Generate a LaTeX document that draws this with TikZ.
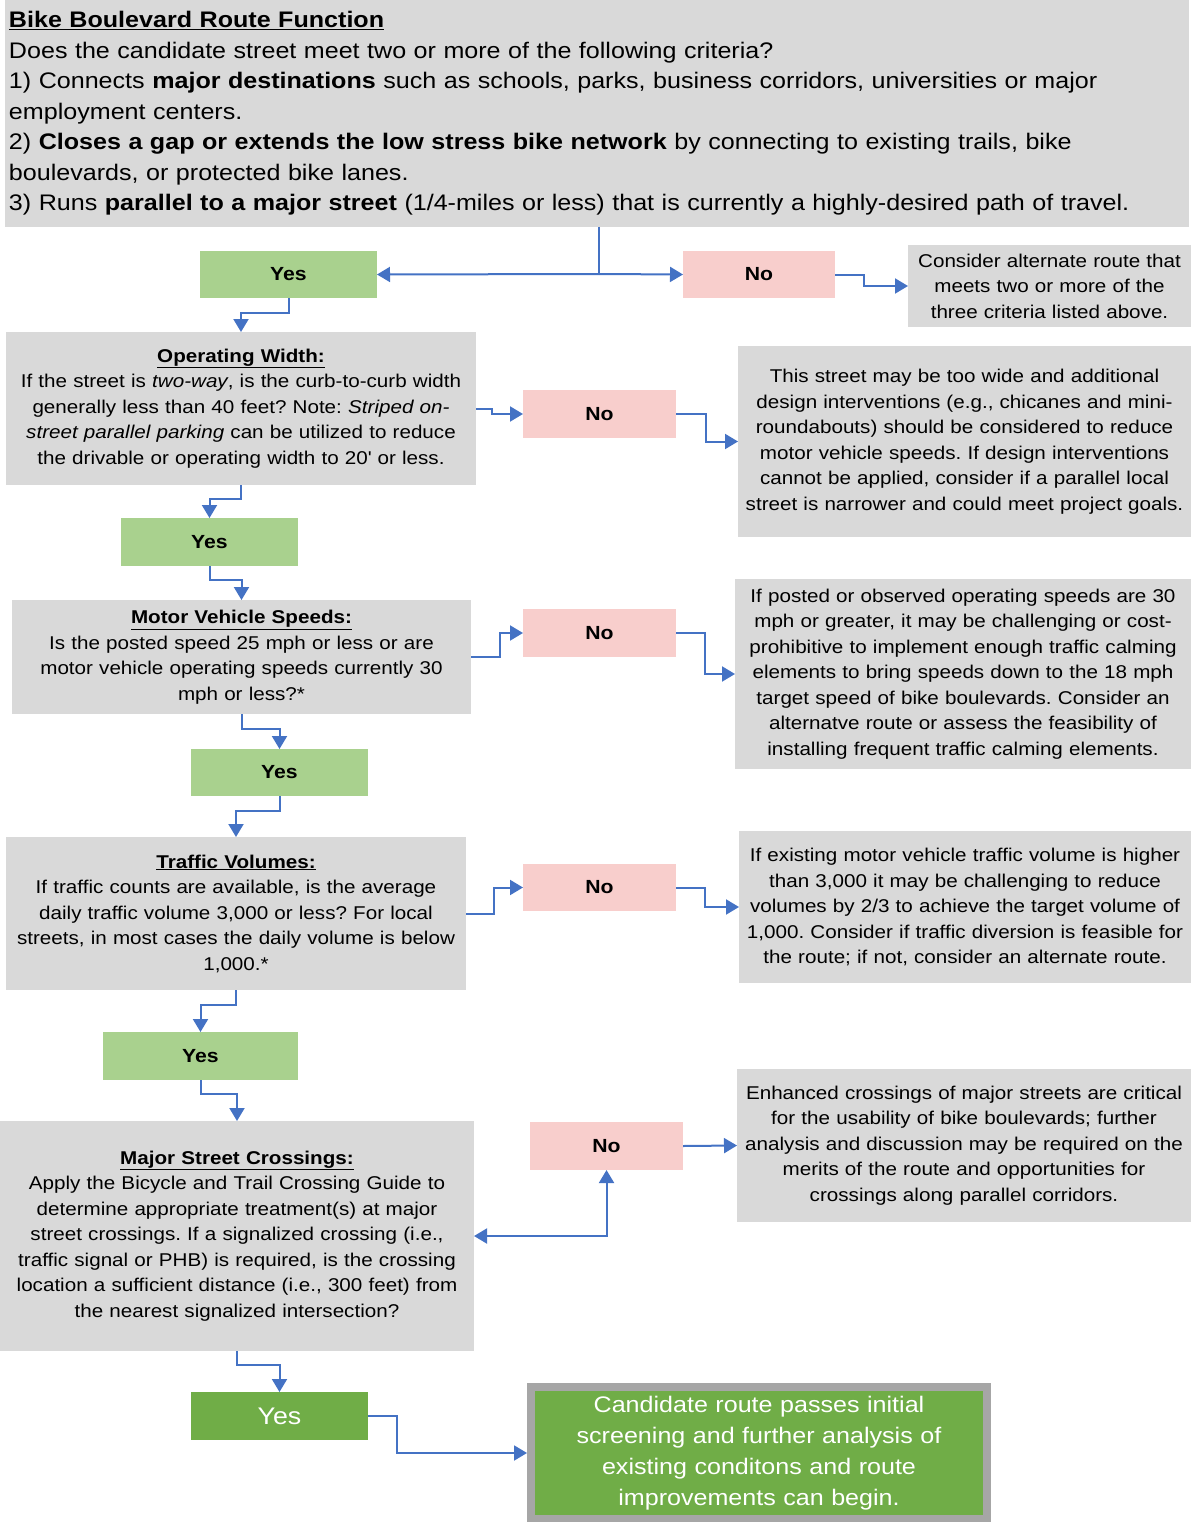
\documentclass[tikz,border=0pt]{standalone}
\usepackage{fontspec}
\setmainfont[FakeStretch=1.115]{Liberation Sans}
\usetikzlibrary{arrows.meta,calc}
\definecolor{boxgrey}{HTML}{D9D9D9}
\definecolor{nopink}{HTML}{F8CECC}
\definecolor{yesgreen}{HTML}{A9D18E}
\definecolor{darkgreen}{HTML}{70AD47}
\definecolor{arrowblue}{HTML}{4472C4}
\definecolor{bordergrey}{HTML}{A6A6A6}
\newcommand{\qbox}{\fontsize{18.5}{25.5}\selectfont}
\frenchspacing
\begin{document}
\begin{tikzpicture}[x=1pt,y=-1pt,
  base/.style={anchor=north west,inner sep=0pt,outer sep=0pt,align=center,font=\qbox},
  greybox/.style={base,fill=boxgrey},
  nobox/.style={base,fill=nopink,font=\fontsize{19}{23}\selectfont\bfseries,text width=#1},
  yesbox/.style={base,fill=yesgreen,font=\fontsize{19}{23}\selectfont\bfseries,text width=#1},
  arr/.style={draw=arrowblue,line width=2pt,-{Triangle[length=13pt,width=15pt]}},
  plainline/.style={draw=arrowblue,line width=2pt},
]
\useasboundingbox (0,0) rectangle (1191,1522);

% header
\node[base,fill=boxgrey,align=left,inner xsep=4pt,text width=1176pt,minimum height=227pt,
  font=\fontsize{22.5}{30.5}\selectfont] (hdr) at (5,0)
 {\underline{\textbf{Bike Boulevard Route Function}}\\
  Does the candidate street meet two or more of the following criteria?\\
  1) Connects \textbf{major destinations} such as schools, parks, business corridors, universities or major\\
  employment centers.\\
  2) \textbf{Closes a gap or extends the low stress bike network} by connecting to existing trails, bike\\
  boulevards, or protected bike lanes.\\
  3) Runs \textbf{parallel to a major street} (1/4-miles or less) that is currently a highly-desired path of travel.};

% row 1
\node[yesbox=177pt,minimum height=47pt] (yes1) at (200,251) {Yes};
\node[nobox=152pt,minimum height=47pt] (no1) at (683,251) {No};
\node[greybox,text width=283pt,minimum height=82pt] (alt1) at (908,245)
 {Consider alternate route that\\ meets two or more of the\\ three criteria listed above.};

% operating width
\node[greybox,text width=470pt,minimum height=153pt] (opw) at (6,332)
 {\underline{\textbf{Operating Width:}}\\
  If the street is \textit{two-way}, is the curb-to-curb width\\
  generally less than 40 feet? Note: \textit{Striped on-}\\
  \textit{street parallel parking} can be utilized to reduce\\
  the drivable or operating width to 20\textquotesingle{} or less.};
\node[nobox=153pt,minimum height=48pt] (no2) at (523,390) {No};
\node[greybox,text width=453pt,minimum height=191pt] (d2) at (738,346)
 {This street may be too wide and additional\\
  design interventions (e.g., chicanes and mini-\\
  roundabouts) should be considered to reduce\\
  motor vehicle speeds. If design interventions\\
  cannot be applied, consider if a parallel local\\
  street is narrower and could meet project goals.};
\node[yesbox=177pt,minimum height=48pt] (yes2) at (121,518) {Yes};

% motor vehicle speeds
\node[greybox,text width=459pt,minimum height=114pt] (mvs) at (12,600)
 {\underline{\textbf{Motor Vehicle Speeds:}}\\
  Is the posted speed 25 mph or less or are\\
  motor vehicle operating speeds currently 30\\
  mph or less?*};
\node[nobox=153pt,minimum height=48pt] (no3) at (523,609) {No};
\node[greybox,text width=456pt,minimum height=190pt] (d3) at (735,579)
 {If posted or observed operating speeds are 30\\
  mph or greater, it may be challenging or cost-\\
  prohibitive to implement enough traffic calming\\
  elements to bring speeds down to the 18 mph\\
  target speed of bike boulevards. Consider an\\
  alternatve route or assess the feasibility of\\
  installing frequent traffic calming elements.};
\node[yesbox=177pt,minimum height=47pt] (yes3) at (191,749) {Yes};

% traffic volumes
\node[greybox,text width=460pt,minimum height=153pt] (tv) at (6,837)
 {\underline{\textbf{Traffic Volumes:}}\\
  If traffic counts are available, is the average\\
  daily traffic volume 3,000 or less? For local\\
  streets, in most cases the daily volume is below\\
  1,000.*};
\node[nobox=153pt,minimum height=47pt] (no4) at (523,864) {No};
\node[greybox,text width=452pt,minimum height=152pt] (d4) at (739,831)
 {If existing motor vehicle traffic volume is higher\\
  than 3,000 it may be challenging to reduce\\
  volumes by 2/3 to achieve the target volume of\\
  1,000. Consider if traffic diversion is feasible for\\
  the route; if not, consider an alternate route.};
\node[yesbox=195pt,minimum height=48pt] (yes4) at (103,1032) {Yes};

% major street crossings
\node[greybox,text width=474pt,minimum height=230pt] (msc) at (0,1121)
 {\underline{\textbf{Major Street Crossings:}}\\
  Apply the Bicycle and Trail Crossing Guide to\\
  determine appropriate treatment(s) at major\\
  street crossings. If a signalized crossing (i.e.,\\
  traffic signal or PHB) is required, is the crossing\\
  location a sufficient distance (i.e., 300 feet) from\\
  the nearest signalized intersection?};
\node[nobox=153pt,minimum height=48pt] (no5) at (530,1122) {No};
\node[greybox,text width=454pt,minimum height=153pt] (d5) at (737,1069)
 {Enhanced crossings of major streets are critical\\
  for the usability of bike boulevards; further\\
  analysis and discussion may be required on the\\
  merits of the route and opportunities for\\
  crossings along parallel corridors.};

% final
\node[base,fill=darkgreen,text=white,text width=177pt,minimum height=48pt,
  font=\fontsize{24}{28}\selectfont] (yes5) at (191,1392) {Yes};
\node[anchor=north west,fill=darkgreen,draw=bordergrey,line width=8pt,outer sep=4pt,
  inner sep=0pt,text=white,align=center,text width=456pt,minimum height=132pt,
  font=\fontsize{22.5}{31}\selectfont] (fin) at (527,1383)
 {\raisebox{-4pt}{\parbox{456pt}{\centering
  Candidate route passes initial\\
  screening and further analysis of\\
  existing conditons and route\\
  improvements can begin.}}};

% connectors
\coordinate (split) at (599,274);
\draw[plainline] (hdr.south -| split) -- (split);
\draw[arr] (split) -- (yes1.east);
\draw[arr] (split) -- (no1.west);
\draw[arr] (no1.east) -- ++(29,0) |- (alt1.west);
\draw[arr] (yes1.south) -- ++(0,15) -| (opw.north);

\draw[arr] (opw.east) -- ++(16,0) |- (no2.west);
\draw[arr] (no2.east) -- ++(30,0) |- (d2.west);
\draw[arr] (opw.south) -- ++(0,14) -| (yes2.north);
\draw[arr] (yes2.south) -- ++(0,14) -| (mvs.north);

\draw[arr] (mvs.east) -- ++(29,0) |- (no3.west);
\draw[arr] (no3.east) -- ++(29,0) |- (d3.west);
\draw[arr] (mvs.south) -- ++(0,15) -| (yes3.north);
\draw[arr] (yes3.south) -- ++(0,15) -| (tv.north);

\draw[arr] (tv.east) -- ++(28,0) |- (no4.west);
\draw[arr] (no4.east) -- ++(29,0) |- (d4.west);
\draw[arr] (tv.south) -- ++(0,15) -| (yes4.north);
\draw[arr] (yes4.south) -- ++(0,14) -| (msc.north);

\draw[arr,{Triangle[length=13pt,width=15pt]}-{Triangle[length=13pt,width=15pt]}] (msc.east) -| (no5.south);
\draw[arr] (no5.east) -- (d5.west);
\draw[arr] (msc.south) -- ++(0,14) -| (yes5.north);
\draw[arr] (yes5.east) -- ++(29,0) |- (fin.west);
\end{tikzpicture}
\end{document}
